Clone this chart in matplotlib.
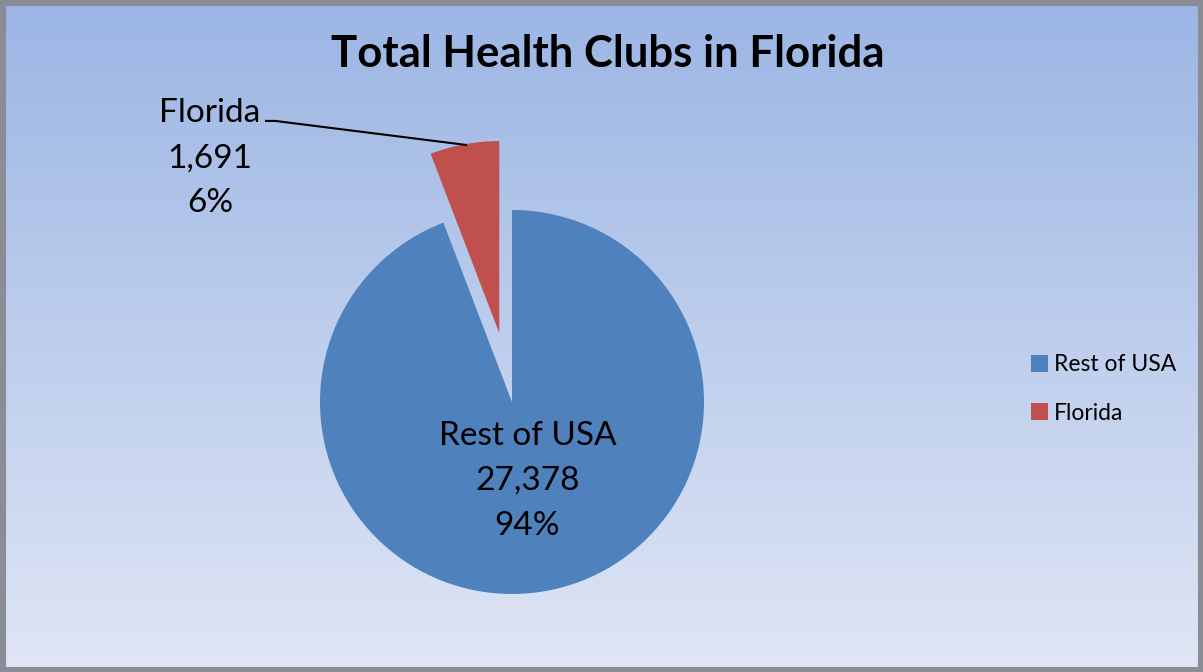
import numpy as np
import matplotlib
matplotlib.use("Agg")
import matplotlib.pyplot as plt
from matplotlib.patches import Rectangle, Patch

# data
categories = ["Rest of USA", "Florida"]
counts = [27378, 1691]
colors = ["#4F81BD", "#C0504D"]
title = "Total Health Clubs in Florida"

plt.rcParams['font.family'] = ['Lato', 'DejaVu Sans']

W, H = 1203, 672
fig = plt.figure(figsize=(W / 100, H / 100), dpi=100)

# gradient background
bg = fig.add_axes([0, 0, 1, 1])
top = np.array([155, 181, 228]) / 255
bottom = np.array([224, 230, 245]) / 255
t = np.linspace(0, 1, 256)[:, None]
grad = top * (1 - t) + bottom * t
bg.imshow(grad[:, None, :], aspect='auto', extent=[0, 1, 0, 1], origin='upper')
bg.add_patch(Rectangle((0, 0), 1, 1, fill=False, edgecolor='#8a8d96', linewidth=8,
                       transform=bg.transAxes))
bg.set_axis_off()

# pie: center (512, 402) px, radius 192 px
cx, cy, r = 512, 402, 192
ax = fig.add_axes([(cx - r) / W, (H - cy - r) / H, 2 * r / W, 2 * r / H])
total = sum(counts)
wedges, _ = ax.pie(counts, colors=colors, startangle=90, counterclock=False,
                   explode=[0, 0.365], radius=1)
for w in wedges:
    w.set_clip_on(False)
ax.set_xlim(-1, 1)
ax.set_ylim(-1, 1)
ax.set_aspect('auto')

pcts = [round(100 * c / total) for c in counts]
ax.text(0.08, -0.41, f"{categories[0]}\n{counts[0]:,}\n{pcts[0]}%", ha='center', va='center',
        fontsize=24, linespacing=1.63, color='black')
ax.text(-1.573, 1.27, f"{categories[1]}\n{counts[1]:,}\n{pcts[1]}%", ha='center', va='center',
        fontsize=24, linespacing=1.63, color='black', clip_on=False)
ax.plot([-1.281, -1.234, -0.24], [1.464, 1.464, 1.339], color='black', lw=1.5, clip_on=False)

fig.text(608 / W, 1 - 54 / H, title, ha='center', va='center', fontsize=31.5, fontweight='bold')

handles = [Patch(facecolor=c, edgecolor='none') for c in colors]
fig.legend(handles, categories, loc='center left', bbox_to_anchor=(1010 / W, 1 - 389 / H),
           frameon=False, fontsize=16.5, handlelength=0.75, handleheight=0.75,
           handletextpad=0.25, labelspacing=1.2)

fig.savefig("out.png", dpi=100)
